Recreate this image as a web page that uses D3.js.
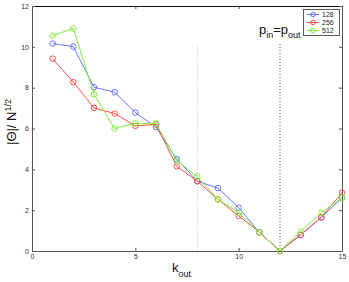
<!DOCTYPE html>
<html>
<head>
<meta charset="utf-8">
<script src="https://cdn.jsdelivr.net/npm/d3@7"></script>
<style>
  body { margin: 0; background: #fff; }
  text { font-family: "Liberation Sans", Arial, sans-serif; }
</style>
</head>
<body>
<div id="chart"></div>
<script>
// data
const kOut = [1, 2, 3, 4, 5, 6, 7, 8, 9, 10, 11, 12, 13, 14, 15];
const s128 = [10.16, 10.01, 8.02, 7.78, 6.78, 6.07, 4.5, 3.42, 3.08, 2.12, 0.92, 0, 0.78, 1.65, 2.6];
const s256 = [9.42, 8.27, 7.01, 6.73, 6.13, 6.2, 4.15, 3.42, 2.53, 1.72, 0.92, 0, 0.8, 1.65, 2.85];
const s512 = [10.55, 10.9, 7.68, 6.0, 6.25, 6.25, 4.42, 3.64, 2.53, 1.88, 0.92, 0, 0.95, 1.88, 2.6];
const seriesNames = ['128', '256', '512'];
const xTicks = [0, 5, 10, 15];
const yTicks = [0, 2, 4, 6, 8, 10, 12];
const refLines = [8, 12];

const width = 349, height = 282;
const margin = {left: 32, right: 7, top: 6, bottom: 31};

const svg = d3.select('#chart').append('svg')
    .attr('width', width)
    .attr('height', height);

const x = d3.scaleLinear().domain([0, 15]).range([margin.left, width - margin.right]);
const y = d3.scaleLinear().domain([0, 12]).range([height - margin.bottom, margin.top]);

const axisColor = '#555';

// reference dotted lines
const refColors = ['#a8bcff', '#4050d8'];
svg.selectAll('.ref')
    .data(refLines)
    .join('line')
    .attr('x1', d => x(d)).attr('x2', d => x(d))
    .attr('y1', (d, i) => i === 0 ? 46 : 44)
    .attr('y2', y(0))
    .attr('stroke', (d, i) => refColors[i])
    .attr('stroke-width', 1)
    .attr('stroke-dasharray', '1,2');

// axes (ticks inside, box on all sides)
function styleAxis(g) {
    g.selectAll('.domain').attr('stroke', axisColor);
    g.selectAll('.tick line').attr('stroke', axisColor);
    g.selectAll('.tick text').attr('fill', '#333').style('font-size', '7px');
}

svg.append('g')
    .attr('transform', `translate(0,${y(0)})`)
    .call(d3.axisBottom(x).tickValues(xTicks).tickSizeInner(-3).tickSizeOuter(0).tickPadding(3))
    .call(styleAxis);

svg.append('g')
    .attr('transform', `translate(0,${y(12)})`)
    .call(d3.axisTop(x).tickValues(xTicks).tickSizeInner(-3).tickSizeOuter(0).tickFormat(''))
    .call(styleAxis)
    .call(g => g.select('.domain').attr('stroke', '#111'));

svg.append('g')
    .attr('transform', `translate(${x(0)},0)`)
    .call(d3.axisLeft(y).tickValues(yTicks).tickSizeInner(-3).tickSizeOuter(0).tickPadding(3))
    .call(styleAxis);

svg.append('g')
    .attr('transform', `translate(${x(15)},0)`)
    .call(d3.axisRight(y).tickValues(yTicks).tickSizeInner(-3).tickSizeOuter(0).tickFormat(''))
    .call(styleAxis);

// series
const colors = ['#6677ff', '#ff4d4d', '#7fee3a'];
const allSeries = [s128, s256, s512];

const line = d3.line()
    .x((d, i) => x(kOut[i]))
    .y(d => y(d));

allSeries.forEach(function(vals, si) {
    svg.append('path')
        .datum(vals)
        .attr('d', line)
        .attr('fill', 'none')
        .attr('stroke', colors[si])
        .attr('stroke-width', 1);
    svg.selectAll('.m' + si)
        .data(vals)
        .join('circle')
        .attr('class', 'm' + si)
        .attr('cx', (d, i) => x(kOut[i]))
        .attr('cy', d => y(d))
        .attr('r', 2.8)
        .attr('fill', 'none')
        .attr('stroke', colors[si])
        .attr('stroke-width', 1);
});

// legend
const legend = svg.append('g');
legend.append('rect')
    .attr('x', 303.5).attr('y', 9.5)
    .attr('width', 36).attr('height', 26)
    .attr('fill', '#fff')
    .attr('stroke', '#333')
    .attr('stroke-width', 0.8);
seriesNames.forEach(function(name, i) {
    const ly = 14.5 + i * 8;
    legend.append('line')
        .attr('x1', 307).attr('x2', 319)
        .attr('y1', ly).attr('y2', ly)
        .attr('stroke', colors[i]);
    legend.append('circle')
        .attr('cx', 313).attr('cy', ly).attr('r', 2.3)
        .attr('fill', 'none').attr('stroke', colors[i]);
    legend.append('text')
        .attr('x', 322).attr('y', ly + 2.5)
        .style('font-size', '7px')
        .attr('fill', '#222')
        .text(name);
});

// p_in = p_out annotation
const ann = svg.append('text')
    .attr('x', 259).attr('y', 34)
    .style('font-size', '13px')
    .attr('fill', '#111');
ann.append('tspan').text('p');
ann.append('tspan').attr('dy', 4).style('font-size', '9px').text('in');
ann.append('tspan').attr('dy', -4).text('=p');
ann.append('tspan').attr('dy', 4).style('font-size', '9px').text('out');

// axis labels
const xl = svg.append('text')
    .attr('x', 172).attr('y', 272)
    .style('font-size', '13px')
    .attr('fill', '#111');
xl.append('tspan').text('k');
xl.append('tspan').attr('dy', 5).style('font-size', '9px').text('out');

const yl = svg.append('text')
    .attr('transform', 'translate(16,145) rotate(-90)')
    .style('font-size', '13px')
    .attr('fill', '#111');
yl.append('tspan').text('|Θ|/ N');
yl.append('tspan').attr('dy', -5).style('font-size', '9px').text('1/2');
</script>
</body>
</html>
